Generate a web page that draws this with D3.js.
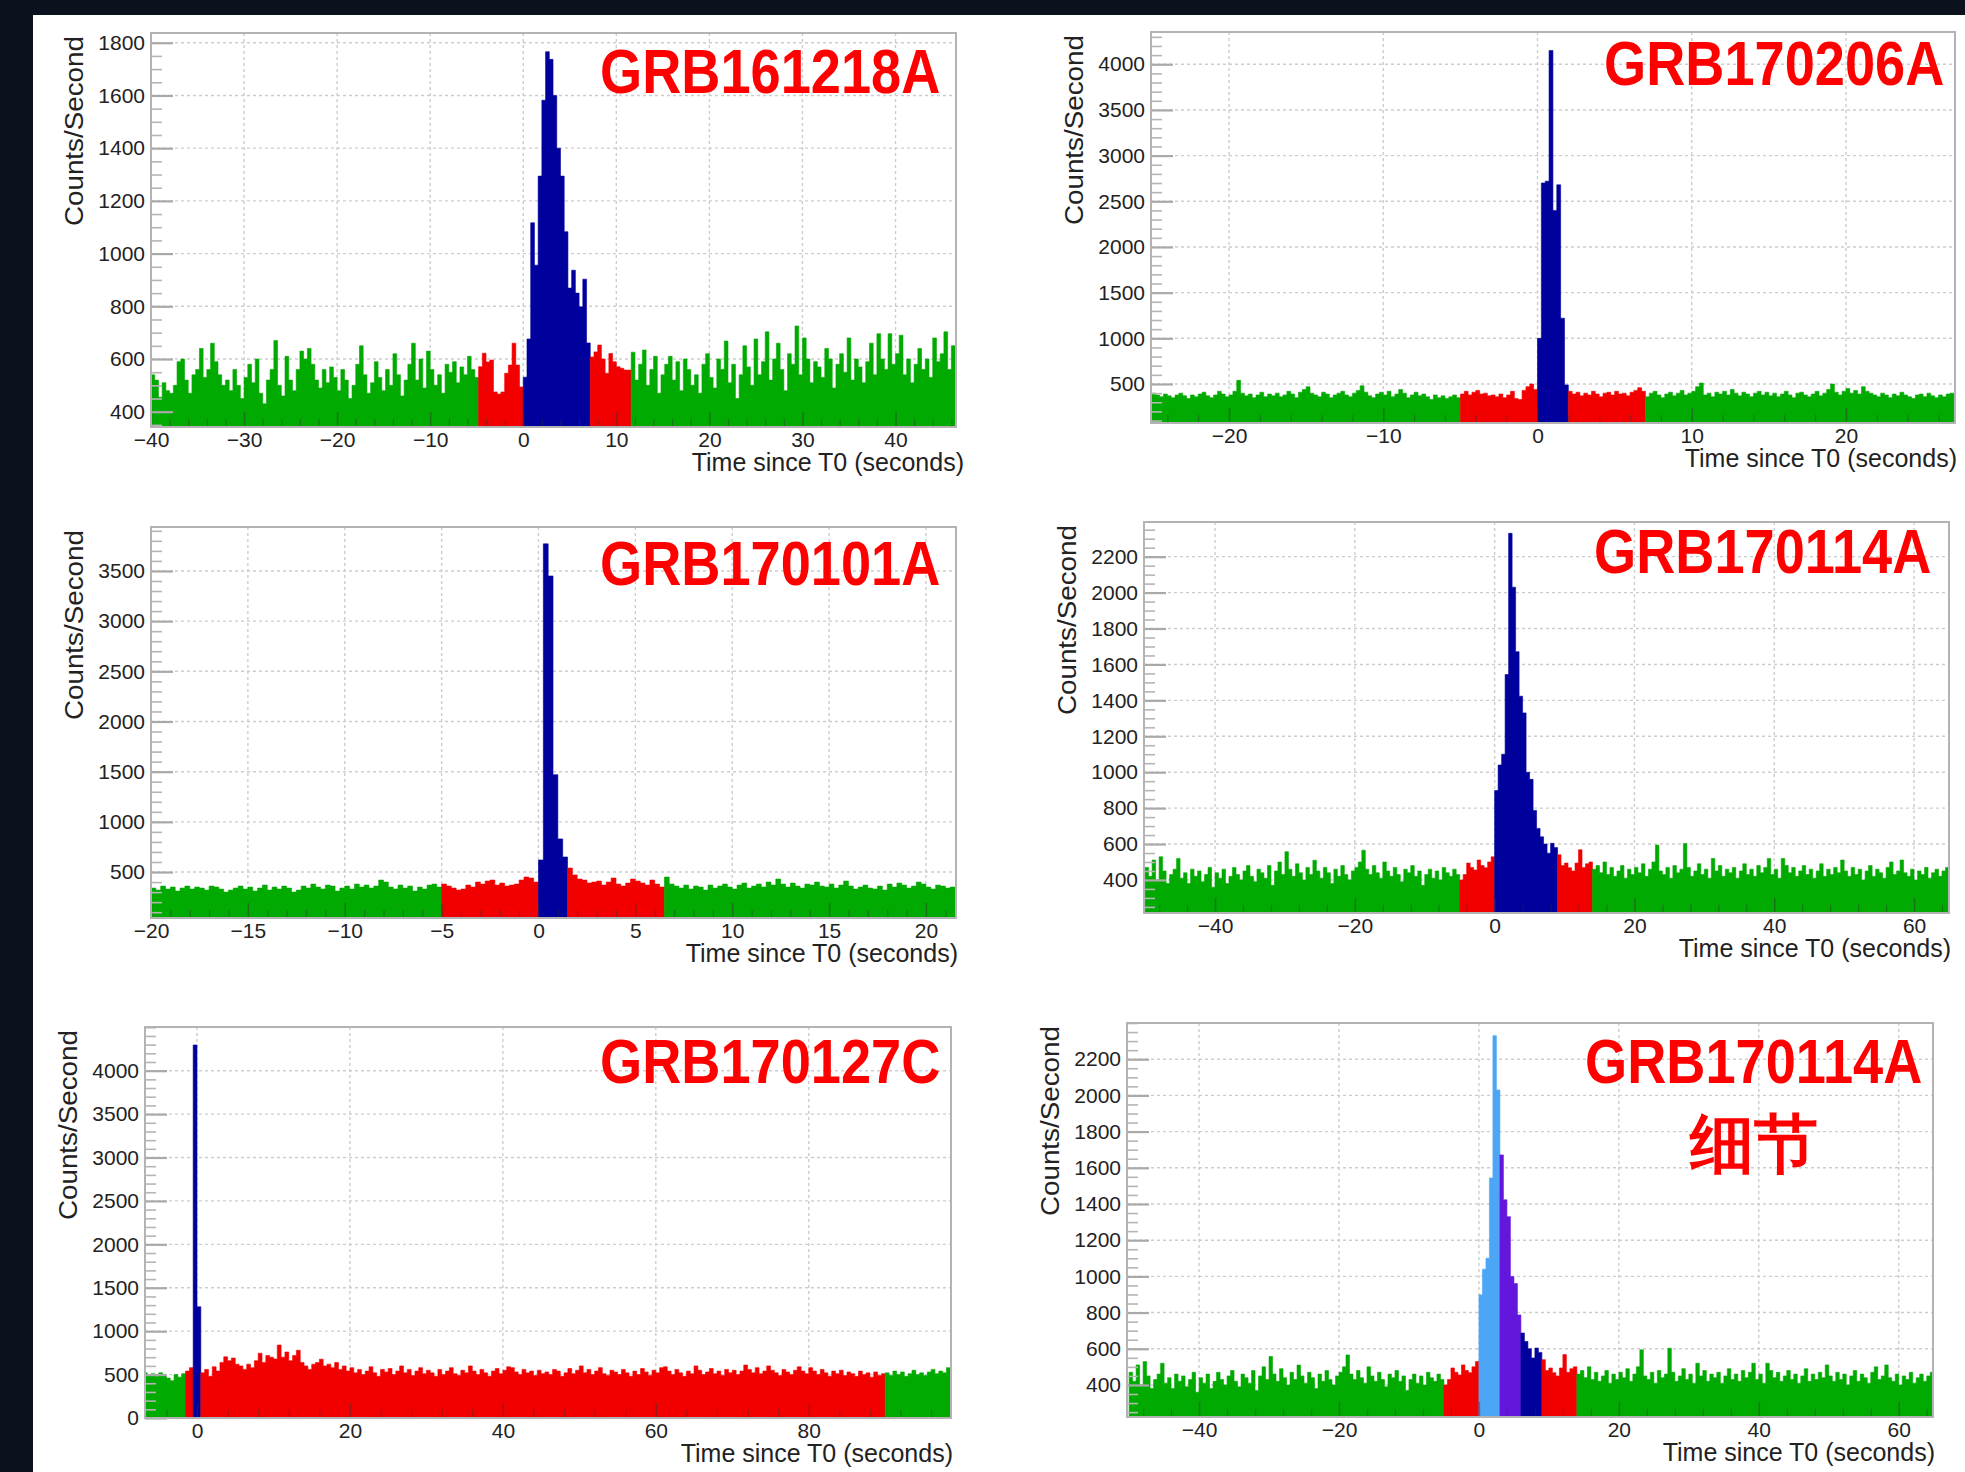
<!DOCTYPE html>
<html>
<head>
<meta charset="utf-8">
<script src="https://cdnjs.cloudflare.com/ajax/libs/d3/7.8.5/d3.min.js"></script>
<style>
  body { margin: 0; background: #0b111d; }
  svg { display: block; }
  text { font-family: "Liberation Sans", Arial, Helvetica, sans-serif; }
</style>
</head>
<body>
<svg id="chart" width="1965" height="1472"></svg>
<script>
// counts per bin
var p1Counts = [
  540,520,455,510,480,470,500,590,600,520, 470,540,560,640,530,560,660,590,540,500,
  520,480,560,500,450,530,580,510,600,470, 430,520,560,670,500,460,610,520,480,560,
  630,600,640,580,520,490,560,510,570,530, 480,560,520,450,500,580,650,540,470,510,
  590,530,480,560,500,620,540,460,520,580, 660,520,600,490,630,560,500,540,470,580,
  550,590,510,570,540,610,560,530,
  571,622,589,596,475,467,475,546,577,660,577,494,
  531,676,1117,956,1294,1582,1766,1737,1600,1400,1294,1083,869,937,850,798,903,661,
  608,627,653,600,546,621,590,571,565,558,558,
  626,520,580,634,500,560,610,470,540,580, 610,520,590,480,600,560,500,540,470,580,
  620,530,490,600,560,668,510,580,450,540, 650,570,500,676,540,590,703,520,600,660,
  560,480,620,580,725,540,680,600,510,590, 570,530,640,600,490,580,620,550,680,520,
  600,570,510,590,660,540,696,600,560,696, 580,620,690,540,600,510,580,640,560,600,
  530,680,590,620,703,560,650
];
var p2Counts = [
  400,380,360,390,370,350,380,400,370,340, 380,360,390,410,370,350,380,420,390,360,
  380,420,540,400,370,390,350,380,410,360, 390,370,400,360,380,420,390,350,410,440,
  470,400,380,360,410,390,350,380,400,420, 380,360,400,430,480,410,370,350,390,410,
  380,420,360,390,440,400,350,380,410,370, 390,360,330,380,350,370,340,360,380,350,
  390,420,380,410,430,390,400,370,380,360, 390,350,380,420,340,330,430,470,500,440,
  1000,2700,2720,4150,2400,2680,1220,490,
  420,390,410,370,400,380,420,390,360,400, 410,380,420,390,400,370,410,430,460,420,
  360,400,420,380,350,390,410,370,400,430, 380,400,420,470,510,380,400,360,410,390,
  420,380,440,400,370,410,390,360,400,420, 380,410,370,400,360,390,420,380,350,400,
  410,380,360,390,420,370,400,440,500,410, 380,420,450,400,430,390,470,420,400,380,
  360,400,380,350,390,370,410,380,360,340, 380,390,360,400,370,350,380,360,390,400
];
var p3Counts = [
  340,320,360,330,350,310,340,360,330,350, 340,320,360,350,330,300,320,340,360,330,
  350,310,340,370,320,350,330,360,340,300, 320,360,340,380,350,330,370,360,310,340,
  360,330,380,350,370,340,360,420,400,350, 330,370,340,360,310,350,330,370,380,350,
  380,360,340,320,330,370,350,400,380,410, 420,370,390,360,370,380,420,450,440,400,
  620,3770,3450,1470,830,650,
  540,470,430,420,390,400,410,370,400,440, 380,360,390,430,410,390,370,420,380,350,
  450,380,360,340,370,330,360,350,320,370, 340,360,380,350,330,370,390,340,360,380,
  350,400,370,430,380,350,390,360,340,380, 370,400,360,350,380,340,370,410,360,330,
  350,370,340,330,360,320,380,350,390,370, 340,360,400,380,350,330,370,360,340,350
];
var p4Counts = [
  470,420,511,400,529,450,380,430,460,520, 410,440,380,460,420,450,390,430,470,360,
  440,410,460,380,420,470,430,400,450,480, 420,390,460,440,410,480,370,450,500,430,
  557,460,420,490,440,400,470,430,510,450, 410,470,440,380,460,420,480,430,400,450,
  470,500,566,460,430,480,440,410,500,450, 420,470,430,390,460,440,480,420,450,370,
  430,460,410,450,400,470,440,420,460,430,
  400,430,494,470,455,511,480,468,500,529,
  898,1040,1100,1544,2330,2030,1671,1423,1330,999,960,787,687,640,600,549,604,580,
  540,480,494,468,450,494,568,470,490,500,
  460,480,440,500,430,470,420,450,480,410, 460,430,470,440,490,420,460,500,594,450,
  430,470,410,480,440,460,603,470,420,450, 490,430,460,410,520,450,480,420,460,440,
  470,410,450,490,430,460,420,480,440,470, 520,430,460,410,520,480,440,470,420,450,
  480,430,460,410,450,490,420,460,430,470, 440,511,450,420,470,430,460,400,450,480,
  420,460,440,410,470,500,430,450,511,440, 420,460,400,450,430,470,410,440,460,420,
  450,470
];
var p5Counts = [
  520,500,510,480,520,490,460,430,500,470,510,
  540,580,
  4296,1281,
  520,560,480,590,540,640,705,660,690,620, 600,560,620,580,660,746,640,720,700,680,
  840,700,760,660,720,780,640,600,560,620, 640,677,600,620,580,640,560,600,540,580,
  520,560,500,540,590,520,480,560,530,570, 500,540,600,520,560,490,540,580,510,550,
  520,480,560,500,540,580,510,490,550,520, 600,540,500,560,520,480,540,570,510,550,
  590,580,530,500,560,520,540,490,550,510, 530,500,560,540,480,520,570,510,550,600,
  520,560,500,540,580,510,490,550,530,500, 560,520,480,540,500,570,530,490,550,520,
  580,590,540,500,560,520,480,540,510,600, 550,500,530,570,510,540,490,560,520,550,
  500,540,610,560,520,580,510,540,600,550, 520,490,560,530,500,550,590,540,510,580,
  540,500,560,520,480,540,510,550,490,530, 510,480,540,500,520,470,530,490,510,
  520,490,540,500,530,480,510,550,500,520,490,530,560,510,540,520,580
];

// time intervals (seconds) of the coloured parts
var p1Bands = { red: [[-4.8, 0], [7.2, 11.6]], navy: [[0, 7.2]] };
var p2Bands = { red: [[-5, 0], [2, 7]], navy: [[0, 2]] };
var p3Bands = { red: [[-5, 0], [1.5, 6.5]], navy: [[0, 1.5]] };
var p4Bands = { red: [[-5, 0], [9, 14]], navy: [[0, 9]] };
var p5Bands = { red: [[-1.5, -0.5], [0.5, 90]], navy: [[-0.5, 0.5]] };
var p6Bands = { red: [[-5, 0], [9, 14]], light: [[0, 3]], purple: [[3, 6]], navy: [[6, 9]] };

var p1XTicks = [-40, -30, -20, -10, 0, 10, 20, 30, 40];
var p1YTicks = [400, 600, 800, 1000, 1200, 1400, 1600, 1800];
var p2XTicks = [-20, -10, 0, 10, 20];
var p2YTicks = [500, 1000, 1500, 2000, 2500, 3000, 3500, 4000];
var p3XTicks = [-20, -15, -10, -5, 0, 5, 10, 15, 20];
var p3YTicks = [500, 1000, 1500, 2000, 2500, 3000, 3500];
var p4XTicks = [-40, -20, 0, 20, 40, 60];
var p4YTicks = [400, 600, 800, 1000, 1200, 1400, 1600, 1800, 2000, 2200];
var p5XTicks = [0, 20, 40, 60, 80];
var p5YTicks = [0, 500, 1000, 1500, 2000, 2500, 3000, 3500, 4000];

var colors = { bg: '#00aa00', red: '#f20000', navy: '#00009c', light: '#4ca6f5', purple: '#6316dc' };

var panels = [
  { title: 'GRB161218A', counts: p1Counts, start: -40, bin: 0.4, bands: p1Bands,
    xDomain: [-40, 46.5], yDomain: [342, 1837], xTicks: p1XTicks, yTicks: p1YTicks,
    xMinor: 2, yMinor: 50, box: { l: 151, r: 956, t: 33, b: 427 }, tx: 600, ty: 93, xtDx: 8 },
  { title: 'GRB170206A', counts: p2Counts, start: -25, bin: 0.25, bands: p2Bands,
    xDomain: [-25.06, 27.07], yDomain: [73, 4353], xTicks: p2XTicks, yTicks: p2YTicks,
    xMinor: 2, yMinor: 100, box: { l: 1151, r: 1955, t: 32, b: 423 }, tx: 1604, ty: 85, xtDx: 2 },
  { title: 'GRB170101A', counts: p3Counts, start: -20, bin: 0.25, bands: p3Bands,
    xDomain: [-20, 21.55], yDomain: [42, 3938], xTicks: p3XTicks, yTicks: p3YTicks,
    xMinor: 1, yMinor: 100, box: { l: 151, r: 956, t: 527, b: 918 }, tx: 600, ty: 585, xtDx: 2 },
  { title: 'GRB170114A', counts: p4Counts, start: -50, bin: 0.5, bands: p4Bands,
    xDomain: [-50.16, 65], yDomain: [216, 2393], xTicks: p4XTicks, yTicks: p4YTicks,
    xMinor: 4, yMinor: 50, box: { l: 1144, r: 1949, t: 522, b: 913 }, tx: 1594, ty: 573, xtDx: 2 },
  { title: 'GRB170127C', counts: p5Counts, start: -7, bin: 0.5, bands: p5Bands,
    xDomain: [-6.8, 98.6], yDomain: [0, 4503], xTicks: p5XTicks, yTicks: p5YTicks,
    xMinor: 4, yMinor: 100, box: { l: 145, r: 951, t: 1027, b: 1418 }, tx: 600, ty: 1083, xtDx: 2 },
  { title: 'GRB170114A', sub: '细节', counts: p4Counts, start: -50, bin: 0.5, bands: p6Bands,
    xDomain: [-50.3, 64.9], yDomain: [223, 2400], xTicks: p4XTicks, yTicks: p4YTicks,
    xMinor: 4, yMinor: 50, box: { l: 1127, r: 1933, t: 1023, b: 1417 }, tx: 1585, ty: 1083, xtDx: 2 }
];

var svg = d3.select('#chart');
svg.append('rect').attr('width', 1965).attr('height', 1472).attr('fill', '#0b111d');
svg.append('rect').attr('x', 33).attr('y', 15).attr('width', 1932).attr('height', 1457).attr('fill', '#ffffff');

function bandOf(bands, t) {
  var found = 'bg';
  Object.keys(bands).forEach(function(k) {
    bands[k].forEach(function(iv) { if (t >= iv[0] && t < iv[1]) found = k; });
  });
  return found;
}

function minorTicks(domain, step, major) {
  return d3.range(Math.ceil(domain[0] / step) * step, domain[1] + 1e-9, step).filter(function(v) {
    return major.indexOf(Math.round(v * 1000) / 1000) < 0;
  });
}

function drawPanel(p, idx) {
  var b = p.box;
  var x = d3.scaleLinear().domain(p.xDomain).range([b.l, b.r]);
  var y = d3.scaleLinear().domain(p.yDomain).range([b.b, b.t]);
  var g = svg.append('g');

  svg.append('clipPath').attr('id', 'clip' + idx).append('rect')
    .attr('x', b.l).attr('y', b.t).attr('width', b.r - b.l).attr('height', b.b - b.t);

  var grid = g.append('g').attr('stroke', '#cdcdcd').attr('stroke-width', 1.4).attr('stroke-dasharray', '3,3');
  grid.selectAll('.gx').data(p.xTicks).enter().append('line')
    .attr('x1', x).attr('x2', x).attr('y1', b.t).attr('y2', b.b);
  grid.selectAll('.gy').data(p.yTicks.filter(function(v) { return v > p.yDomain[0]; })).enter().append('line')
    .attr('x1', b.l).attr('x2', b.r).attr('y1', y).attr('y2', y);

  // histogram split in runs of the same colour
  var bins = p.counts.map(function(c, i) {
    var t0 = p.start + i * p.bin;
    return { t0: t0, t1: t0 + p.bin, c: c, band: bandOf(p.bands, t0 + p.bin / 2) };
  });
  var runs = [];
  bins.forEach(function(d) {
    var last = runs[runs.length - 1];
    if (last && last.band === d.band) last.bins.push(d);
    else runs.push({ band: d.band, bins: [d] });
  });
  var area = d3.area().curve(d3.curveStepAfter)
    .x(function(d) { return x(d[0]); })
    .y0(b.b)
    .y1(function(d) { return y(d[1]); });
  g.append('g').attr('clip-path', 'url(#clip' + idx + ')')
    .selectAll('path').data(runs).enter().append('path')
    .attr('d', function(r) {
      var pts = r.bins.map(function(d) { return [d.t0, d.c]; });
      var lb = r.bins[r.bins.length - 1];
      pts.push([lb.t1, lb.c]);
      return area(pts);
    })
    .attr('fill', function(r) { return colors[r.band]; })
    .attr('stroke', function(r) { return colors[r.band]; })
    .attr('stroke-width', 0.6);

  // y axis
  var ya = g.append('g').attr('transform', 'translate(' + b.l + ',0)')
    .call(d3.axisLeft(y).tickValues(p.yTicks).tickSizeInner(-22).tickSizeOuter(0).tickPadding(6).tickFormat(d3.format('d')));
  ya.select('.domain').remove();
  ya.selectAll('line').attr('stroke', '#a9a9a9').attr('stroke-width', 2.2);
  ya.selectAll('text').attr('font-size', 21).attr('fill', '#222').attr('font-family', '"Liberation Sans", Arial, sans-serif');

  var yb = g.append('g').attr('transform', 'translate(' + b.l + ',0)')
    .call(d3.axisLeft(y).tickValues(minorTicks(p.yDomain, p.yMinor, p.yTicks)).tickSizeInner(-11).tickSizeOuter(0).tickFormat(''));
  yb.select('.domain').remove();
  yb.selectAll('line').attr('stroke', '#b5b5b5').attr('stroke-width', 1.6);

  // x axis
  var xa = g.append('g').attr('transform', 'translate(0,' + b.b + ')')
    .call(d3.axisBottom(x).tickValues(p.xTicks).tickSizeInner(-15).tickSizeOuter(0).tickPadding(5).tickFormat(d3.format('d')));
  xa.select('.domain').remove();
  xa.selectAll('line').attr('stroke', '#333').attr('stroke-opacity', 0.45).attr('stroke-width', 1.5);
  xa.selectAll('text').attr('font-size', 21).attr('fill', '#222').attr('font-family', '"Liberation Sans", Arial, sans-serif');

  var xb = g.append('g').attr('transform', 'translate(0,' + b.b + ')')
    .call(d3.axisBottom(x).tickValues(minorTicks(p.xDomain, p.xMinor, p.xTicks)).tickSizeInner(-8).tickSizeOuter(0).tickFormat(''));
  xb.select('.domain').remove();
  xb.selectAll('line').attr('stroke', '#333').attr('stroke-opacity', 0.4).attr('stroke-width', 1.2);

  g.append('rect').attr('x', b.l).attr('y', b.t).attr('width', b.r - b.l).attr('height', b.b - b.t)
    .attr('fill', 'none').attr('stroke', '#b3b3b3').attr('stroke-width', 2);

  // titles
  g.append('text').attr('x', b.r + p.xtDx).attr('y', b.b + 44).attr('text-anchor', 'end')
    .attr('font-size', 25).attr('fill', '#222').text('Time since T0 (seconds)');
  g.append('text').attr('transform', 'translate(' + (b.l - 68) + ',' + (b.t + 3) + ') rotate(-90) scale(1.07,1)')
    .attr('text-anchor', 'end').attr('font-size', 26).attr('fill', '#222').text('Counts/Second');

  g.append('text').attr('transform', 'translate(' + p.tx + ',' + p.ty + ') scale(0.86,1)')
    .attr('font-size', 63).attr('font-weight', 'bold').attr('fill', '#ff0000').text(p.title);
  if (p.sub) {
    g.append('text').attr('x', 1690).attr('y', 1166).attr('font-size', 64).attr('font-weight', 'bold')
      .attr('font-family', '"Noto Sans CJK SC", sans-serif').attr('fill', '#ff0000').text(p.sub);
  }
}

panels.forEach(drawPanel);
</script>
</body>
</html>
